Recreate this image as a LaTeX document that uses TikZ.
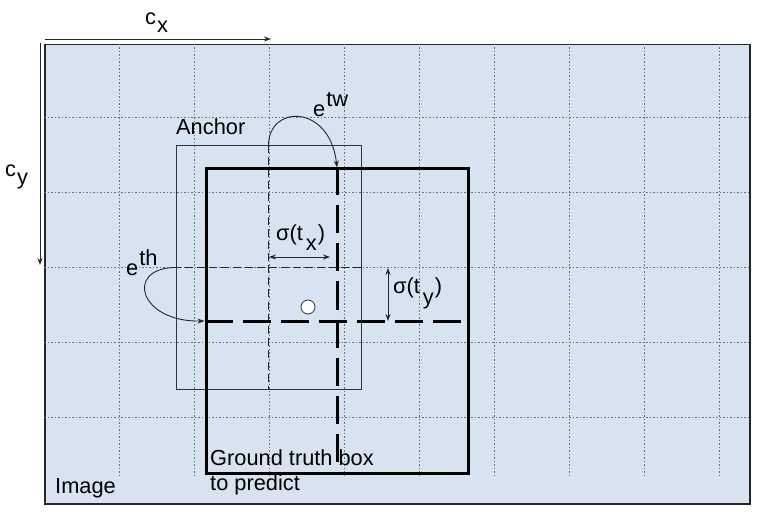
\documentclass[tikz,border=0pt]{standalone}
\usepackage{fontspec}
\setmainfont{Liberation Sans}
\usetikzlibrary{arrows.meta}
\definecolor{imgbg}{RGB}{215,227,241}
\definecolor{gridc}{RGB}{105,110,120}
\begin{document}
\begin{tikzpicture}[x=1pt,y=-1pt,
  font=\fontsize{21.8}{26}\selectfont,
  gridline/.style={gridc, line width=0.8pt, dash pattern=on 1.5pt off 2pt},
  anchorbox/.style={draw=black!80, line width=1pt, inner sep=0pt, fill=none},
  gtbox/.style={draw=black, line width=3pt, inner sep=0pt, fill=none},
  thindash/.style={black!85, line width=1pt, dash pattern=on 8pt off 4pt},
  thickdash/.style={black, line width=3pt, dash pattern=on 28pt off 10pt},
  arr/.style={black!85, line width=0.9pt, -{Stealth[length=7pt,width=5pt]}},
  darr/.style={black!85, line width=0.9pt, {Stealth[length=7pt,width=5pt]}-{Stealth[length=7pt,width=5pt]}},
  lbl/.style={inner sep=0pt, anchor=base west, text=black},
]
\useasboundingbox (0,0) rectangle (778,526);
% image area
\node[draw=black!85, line width=1.5pt, fill=imgbg, minimum width=705pt, minimum height=459pt,
      inner sep=0pt, anchor=north west] (img) at (44,44) {};
% grid
\foreach \x in {119,194,...,719} \draw[gridline] (\x,44) -- (\x,478);
\foreach \y in {117,192,...,417} \draw[gridline] (44,\y) -- (749,\y);
% anchor box
\node[anchorbox, minimum width=185pt, minimum height=243pt] (anchor) at (268.5,267.5) {};
\coordinate (thstart) at (173,267.5);
\draw[thindash] (anchor.north) -- (anchor.south);
\draw[thindash] (thstart) -- (anchor.east);
% ground truth box
\node[gtbox, minimum width=262pt, minimum height=304pt] (gt) at (337,321) {};
% labels
\node[lbl] (lanchor) at (176,135) {Anchor};
\node[lbl] (limage) at (55,493) {Image};
\node[lbl] (lgt1) at (210,465) {Ground truth box};
\node[lbl] (lgt2) at (210,490) {to predict};
\node[lbl] (lcx) at (145,25) {c\kern1pt\raisebox{-8pt}{x}};
\node[lbl] (lcy) at (5,177) {c\kern1pt\raisebox{-8pt}{y}};
\node[lbl] (letw) at (313,117) {e\kern1pt\raisebox{10pt}{tw}};
\node[lbl] (leth) at (126,276) {e\kern1pt\raisebox{10pt}{th}};
\node[lbl] (lsx) at (276,241) {σ(t\kern3pt\raisebox{-10pt}{x}\kern1pt)};
\node[lbl] (lsy) at (393,294) {σ(t\kern3pt\raisebox{-10pt}{y}\kern1pt)};
% ground truth centre lines
\draw[thickdash] (gt.north) -- (gt.south);
\draw[thickdash] (gt.west) -- (gt.east);
% centre marker
\node[circle, draw=black!80, fill=white, minimum size=14pt, inner sep=0pt, line width=0.8pt] (ctr) at (308,307) {};
% axis arrows
\coordinate (cxa) at (45,39);
\coordinate (cxb) at (271,39);
\coordinate (cya) at (40,43);
\coordinate (cyb) at (40,265);
\draw[arr] (cxa) -- (cxb);
\draw[arr] (cya) -- (cyb);
% transformation arrows
\draw[arr] (anchor.north) .. controls (268.5,104) and (330,104) .. (gt.north);
\draw[arr] (thstart) .. controls (125,270) and (140,322) .. (gt.west);
% offsets
\coordinate (sxa) at (269,257);
\coordinate (sxb) at (330,257);
\draw[darr] (sxa) -- (sxb);
\coordinate (sya) at (388,321);
\coordinate (syb) at (388,268);
\draw[darr] (sya) -- (syb);
\end{tikzpicture}
\end{document}
